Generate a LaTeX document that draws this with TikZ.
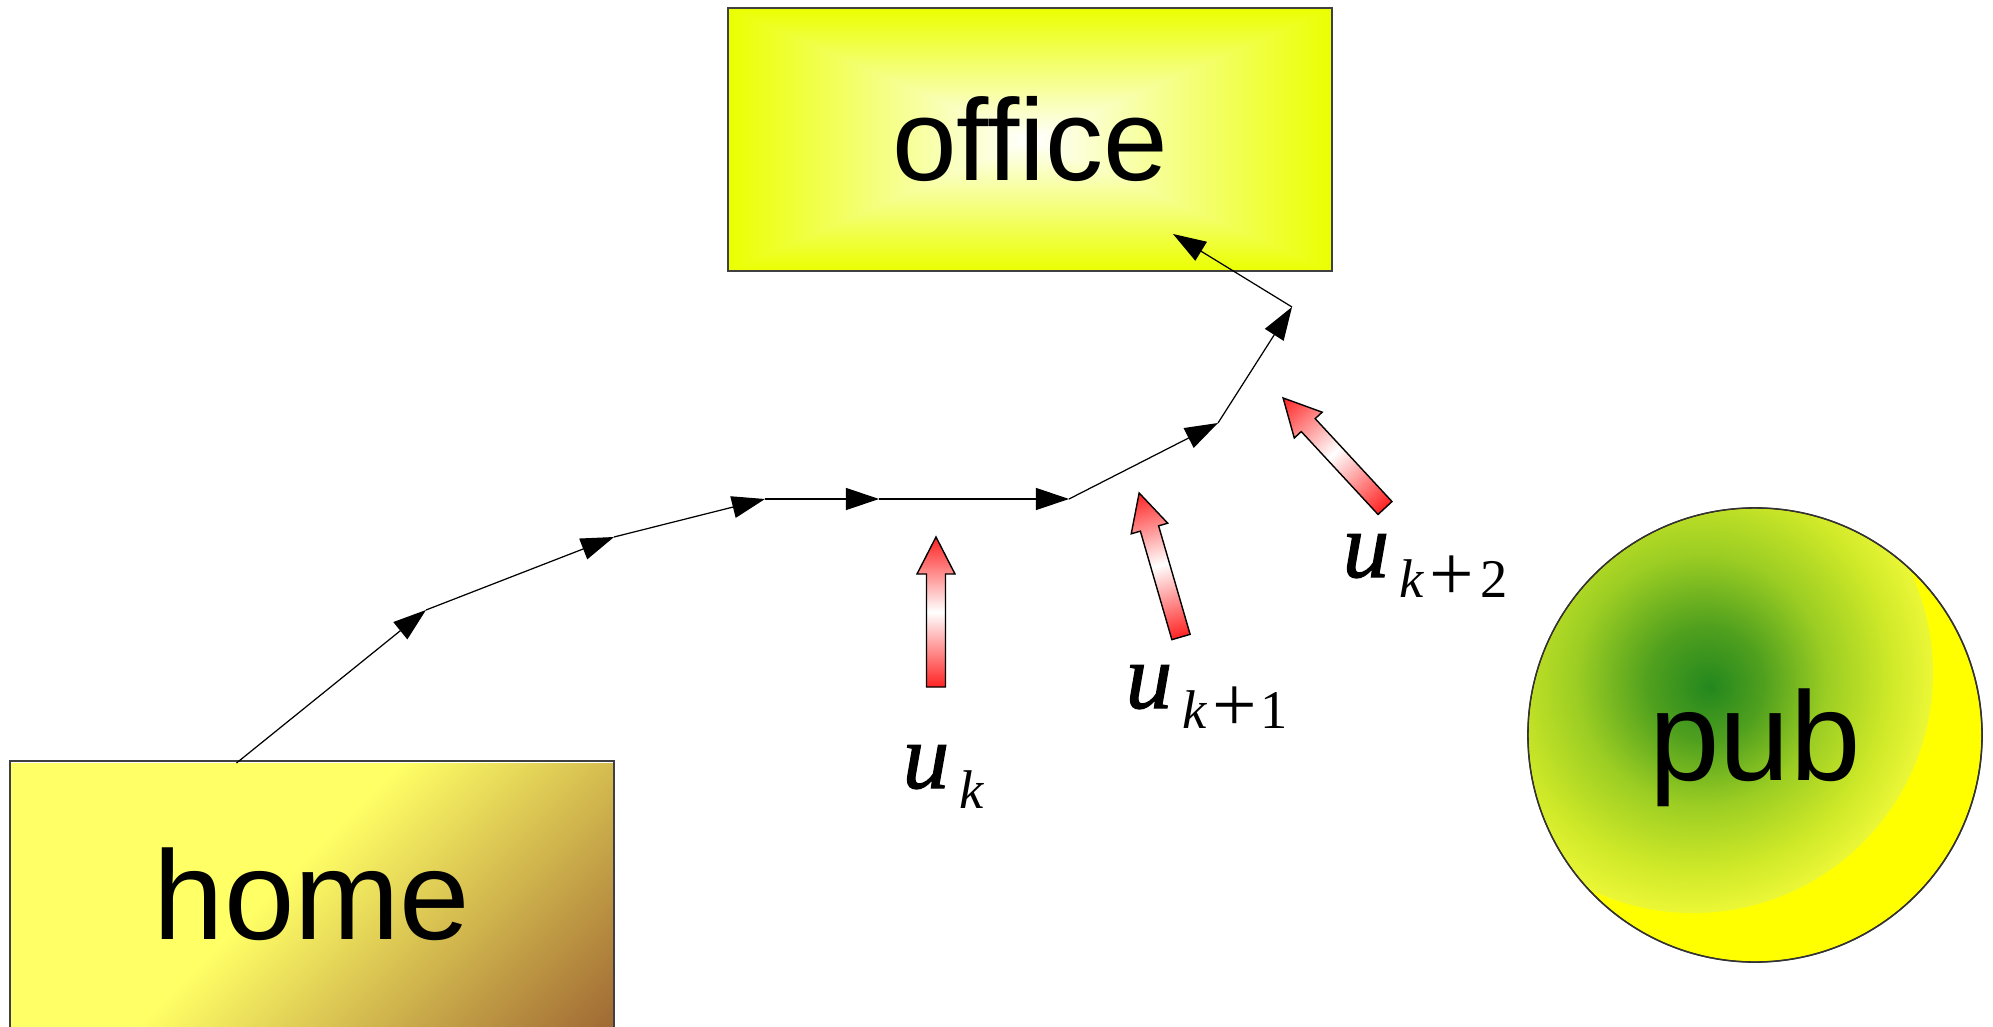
\documentclass[tikz,border=0pt]{standalone}
\usepackage{fontspec}
\setmainfont{Liberation Sans}[Ligatures=CommonOff]
\newfontfamily\serifu{Liberation Serif}
\newfontfamily\ufont{Liberation Serif}[FakeBold=1.2]
\usetikzlibrary{arrows.meta}
\definecolor{homeY}{RGB}{255,255,102}
\definecolor{homeB}{RGB}{160,105,52}
\definecolor{arrRed}{RGB}{255,35,35}
\definecolor{pubY}{RGB}{255,255,0}
\definecolor{pubG}{RGB}{35,135,30}
\definecolor{pubM}{RGB}{80,160,30}
\definecolor{pubL}{RGB}{155,205,35}
\definecolor{pubK}{RGB}{205,232,40}
\definecolor{pubE}{RGB}{235,247,55}
\pgfdeclarehorizontalshading{homesh}{100bp}{color(0bp)=(homeY); color(47.8bp)=(homeY); color(72.5bp)=(homeB); color(100bp)=(homeB)}
\pgfdeclareradialshading{pubsh}{\pgfpoint{1.8bp}{-1.5bp}}{color(0bp)=(pubG); color(6bp)=(pubM); color(13bp)=(pubL); color(20bp)=(pubK); color(25bp)=(pubE)}
\pgfdeclarefunctionalshading{officesh}{\pgfpoint{-50bp}{-50bp}}{\pgfpoint{50bp}{50bp}}{}{
  abs exch abs 2 copy lt {exch} if pop 25 div dup 1 gt {pop 1} if
  dup 0.08 mul 1 exch sub exch 1 exch 1 exch sub
}
\newcommand{\subsz}{\serifu\fontsize{15.5}{17}\selectfont\itshape}
\newcommand{\bigplus}{\raisebox{-0.9pt}{\scalebox{1.45}{\upshape+}}}
\begin{document}
\begin{tikzpicture}[x=0.01cm,y=0.01cm,
  boxline/.style={draw=black!75, line width=0.4pt},
  seg/.style={line width=0.35pt, -{Triangle[length=0.33cm,width=0.22cm]}},
  blockarr/.style={draw=black, line width=0.4pt, left color=arrRed, right color=arrRed, middle color=white},
  ulab/.style={inner sep=0pt, anchor=base west, font=\ufont\fontsize{26.5}{29}\selectfont\itshape},
  bigtext/.style={font=\fontsize{36}{40}\selectfont}
]
\useasboundingbox (0,0) rectangle (1993,1026);
% home fill
\begin{scope}
  \clip (10,-5) rectangle (614,263);
  \begin{scope}[transform canvas={shift={(312,131.5)},rotate=-45}]
    \path[shade, shading=homesh] (-340,-340) rectangle (340,340);
  \end{scope}
\end{scope}
\node[boxline, minimum width=6.04cm, minimum height=2.67cm, inner sep=0pt, bigtext] (home) at (312,131.5) {home};
% office
\node[boxline, shade, shading=officesh, minimum width=6.04cm, minimum height=2.63cm, inner sep=0pt, font=\fontsize{33}{36}\selectfont] (office) at (1030,886.5) {office};
% pub
\node[circle, draw=black!80, line width=0.4pt, fill=pubY, minimum size=4.54cm, inner sep=0pt] (pub) at (1755,291) {};
\begin{scope}
  \clip (1755,291) circle[radius=226];
  \path[shade, shading=pubsh] (1693,353) circle[radius=240];
\end{scope}
\draw[draw=black!80, line width=0.4pt] (1755,291) circle[radius=227];
\node[bigtext, text depth=0pt, inner sep=0pt] (pubtext) at (pub.center) {pub};
% path
\coordinate (p0) at (236.5,263);
\coordinate (p1) at (426,416);
\coordinate (p2) at (614,489);
\coordinate (p3) at (765,527);
\coordinate (p4) at (879,527);
\coordinate (p5) at (1069,527);
\coordinate (p6) at (1218,603);
\coordinate (p7) at (1292,719);
\coordinate (p8) at (1173,792);
\draw[seg] (p0) -- (p1);
\draw[seg] (p1) -- (p2);
\draw[seg] (p2) -- (p3);
\draw[seg] (p3) -- (p4);
\draw[seg] (p4) -- (p5);
\draw[seg] (p5) -- (p6);
\draw[seg] (p6) -- (p7);
\draw[seg] (p7) -- (p8);
% block arrows
\path[blockarr, transform canvas={shift={(936,339)},rotate=90}] (0,-9.5) -- (113,-9.5) -- (113,-19) -- (150,0) -- (113,19) -- (113,9.5) -- (0,9.5) -- cycle;
\path[blockarr, transform canvas={shift={(1181,389)},rotate=106.2}] (0,-9.5) -- (113,-9.5) -- (113,-19) -- (150,0) -- (113,19) -- (113,9.5) -- (0,9.5) -- cycle;
\path[blockarr, transform canvas={shift={(1385,518)},rotate=132.8}] (0,-9.5) -- (113,-9.5) -- (113,-19) -- (150,0) -- (113,19) -- (113,9.5) -- (0,9.5) -- cycle;
% labels
\node[ulab] (uk) at (902,238) {u\kern0.1cm\raisebox{-0.2cm}{\subsz k}};
\node[ulab] (uk1) at (1125,318) {u\kern0.1cm\raisebox{-0.2cm}{\subsz k\kern1.6pt\bigplus\kern1.2pt{}\upshape 1}};
\node[ulab] (uk2) at (1342,449) {u\kern0.1cm\raisebox{-0.2cm}{\subsz k\kern1.6pt\bigplus\kern1.8pt{}\upshape 2}};
\end{tikzpicture}
\end{document}
